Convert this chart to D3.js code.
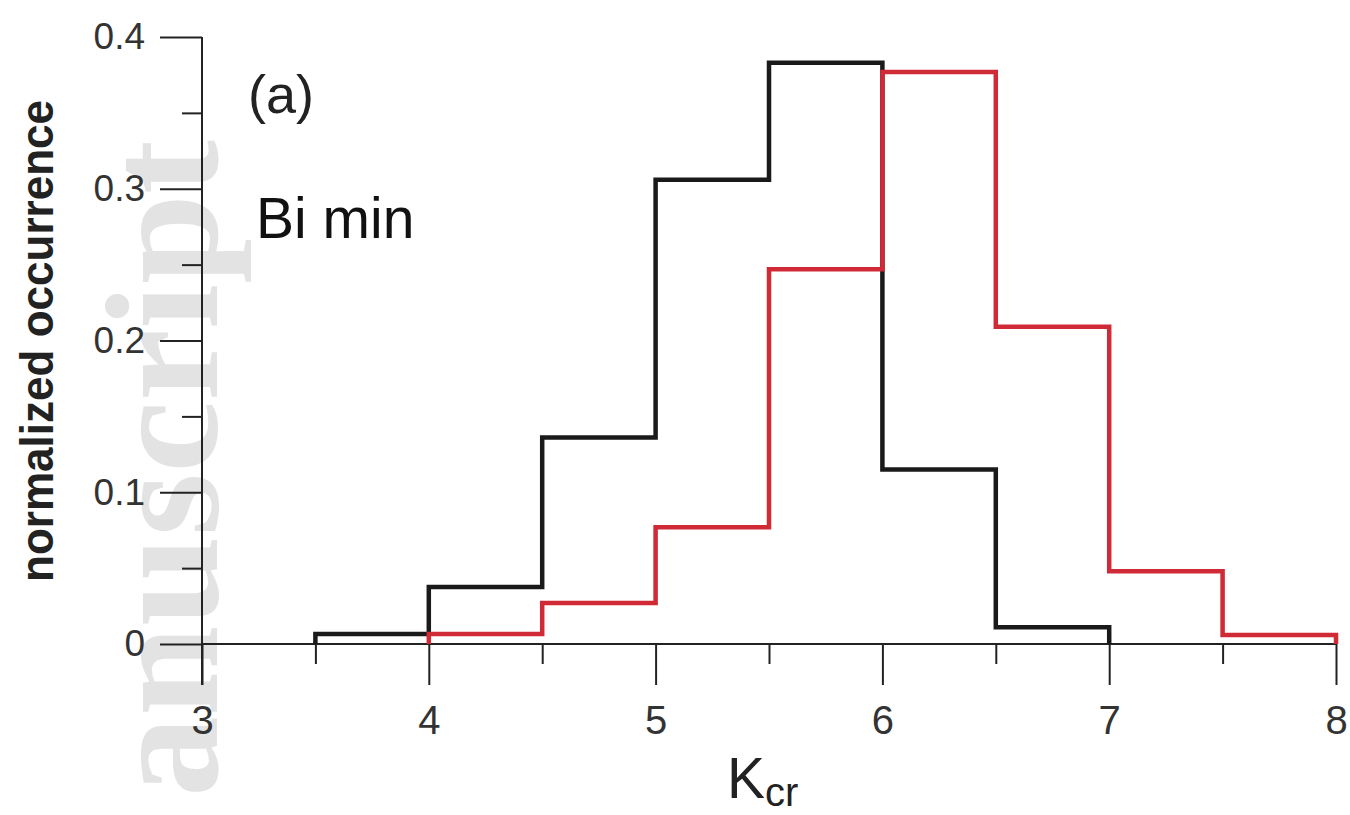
<!DOCTYPE html>
<html>
<head>
<meta charset="utf-8">
<script src="https://cdn.jsdelivr.net/npm/d3@7"></script>
<style>
html,body{margin:0;padding:0;background:#fff;}
svg{display:block;}
</style>
</head>
<body>
<svg id="chart" width="1350" height="815"></svg>
<script>
// ---- data ----
const blackEdges = [3.5, 4, 4.5, 5, 5.5, 6, 6.5, 7];
const blackValues = [0.0066, 0.0376, 0.136, 0.306, 0.383, 0.115, 0.011];
const redEdges = [4, 4.5, 5, 5.5, 6, 6.5, 7, 7.5, 8];
const redValues = [0.0066, 0.027, 0.077, 0.247, 0.377, 0.209, 0.048, 0.006];
const xMajorTicks = [3, 4, 5, 6, 7, 8];
const xMinorTicks = [3.5, 4.5, 5.5, 6.5, 7.5];
const yMajorTicks = [0, 0.1, 0.2, 0.3, 0.4];
const yMinorTicks = [0.05, 0.15, 0.25, 0.35];
const yTickLabels = ["0", "0.1", "0.2", "0.3", "0.4"];

const svg = d3.select("#chart");
const x = d3.scaleLinear().domain([3, 8]).range([202, 1336]);
const y = d3.scaleLinear().domain([0, 0.4]).range([644, 37]);

// watermark (visible part)
svg.append("text")
  .attr("transform", "translate(217,140) rotate(-90)")
  .attr("text-anchor", "end")
  .attr("font-family", "Liberation Serif, serif")
  .attr("font-weight", "bold")
  .attr("font-size", 162)
  .attr("fill", "#e3e3e3")
  .text("anuscript");

const axisColor = "#222";
// x axis (major ticks)
const xAxis = svg.append("g").attr("transform", `translate(0,${y(0)})`)
  .call(d3.axisBottom(x).tickValues(xMajorTicks).tickSize(41).tickSizeOuter(0).tickFormat(d3.format("d")));
xAxis.select(".domain").remove();
xAxis.selectAll(".tick line").attr("stroke", axisColor).attr("stroke-width", 2);
xAxis.selectAll(".tick text").attr("font-family", "Liberation Sans, Arial, sans-serif")
  .attr("font-size", 40).attr("fill", "#333").attr("y", 62).attr("dy", "0.71em");
const xMinor = svg.append("g").attr("transform", `translate(0,${y(0)})`)
  .call(d3.axisBottom(x).tickValues(xMinorTicks).tickSize(20).tickSizeOuter(0).tickFormat(""));
xMinor.select(".domain").remove();
xMinor.selectAll(".tick line").attr("stroke", axisColor).attr("stroke-width", 2);

// y axis
const yAxis = svg.append("g").attr("transform", `translate(${x(3)},0)`)
  .call(d3.axisLeft(y).tickValues(yMajorTicks).tickSize(42).tickSizeOuter(0)
    .tickFormat((d, i) => yTickLabels[i]));
yAxis.select(".domain").remove();
yAxis.selectAll(".tick line").attr("stroke", axisColor).attr("stroke-width", 2);
yAxis.selectAll(".tick text").attr("font-family", "Liberation Sans, Arial, sans-serif")
  .attr("font-size", 37).attr("fill", "#333").attr("x", -57);
const yMinor = svg.append("g").attr("transform", `translate(${x(3)},0)`)
  .call(d3.axisLeft(y).tickValues(yMinorTicks).tickSize(20).tickSizeOuter(0).tickFormat(""));
yMinor.select(".domain").remove();
yMinor.selectAll(".tick line").attr("stroke", axisColor).attr("stroke-width", 2);

// axis lines
svg.append("line").attr("x1", x(3)).attr("x2", x(8)).attr("y1", y(0)).attr("y2", y(0))
  .attr("stroke", axisColor).attr("stroke-width", 2);
svg.append("line").attr("x1", x(3)).attr("x2", x(3)).attr("y1", y(0.4)).attr("y2", y(0) + 41)
  .attr("stroke", axisColor).attr("stroke-width", 2);

// histograms
function stepPoints(edges, values) {
  const pts = [[edges[0], 0]];
  values.forEach((v, i) => pts.push([edges[i], v]));
  pts.push([edges[edges.length - 1], 0]);
  return pts;
}
const line = d3.line().x(d => x(d[0])).y(d => y(d[1])).curve(d3.curveStepAfter);
svg.append("path").attr("d", line(stepPoints(blackEdges, blackValues)))
  .attr("fill", "none").attr("stroke", "#1a1a1a").attr("stroke-width", 4.5).attr("stroke-linejoin", "miter");
svg.append("path").attr("d", line(stepPoints(redEdges, redValues)))
  .attr("fill", "none").attr("stroke", "#cf2a36").attr("stroke-width", 4.5).attr("stroke-linejoin", "miter");

// labels
svg.append("text").attr("x", 248).attr("y", 113)
  .attr("font-family", "Liberation Sans, Arial, sans-serif").attr("font-size", 54).attr("fill", "#222")
  .text("(a)");
svg.append("text").attr("x", 256).attr("y", 238)
  .attr("font-family", "Liberation Sans, Arial, sans-serif").attr("font-size", 57).attr("fill", "#111")
  .text("Bi min");

svg.append("text")
  .attr("transform", "translate(53,341) rotate(-90)")
  .attr("text-anchor", "middle")
  .attr("font-family", "Liberation Sans, Arial, sans-serif")
  .attr("font-weight", "bold").attr("font-size", 47).attr("fill", "#222")
  .attr("textLength", 482).attr("lengthAdjust", "spacingAndGlyphs")
  .text("normalized occurrence");

const xl = svg.append("text").attr("x", 727).attr("y", 798)
  .attr("font-family", "Liberation Sans, Arial, sans-serif").attr("font-size", 57).attr("fill", "#222");
xl.append("tspan").text("K");
xl.append("tspan").attr("font-size", 40).attr("dy", 8).text("cr");
</script>
</body>
</html>
